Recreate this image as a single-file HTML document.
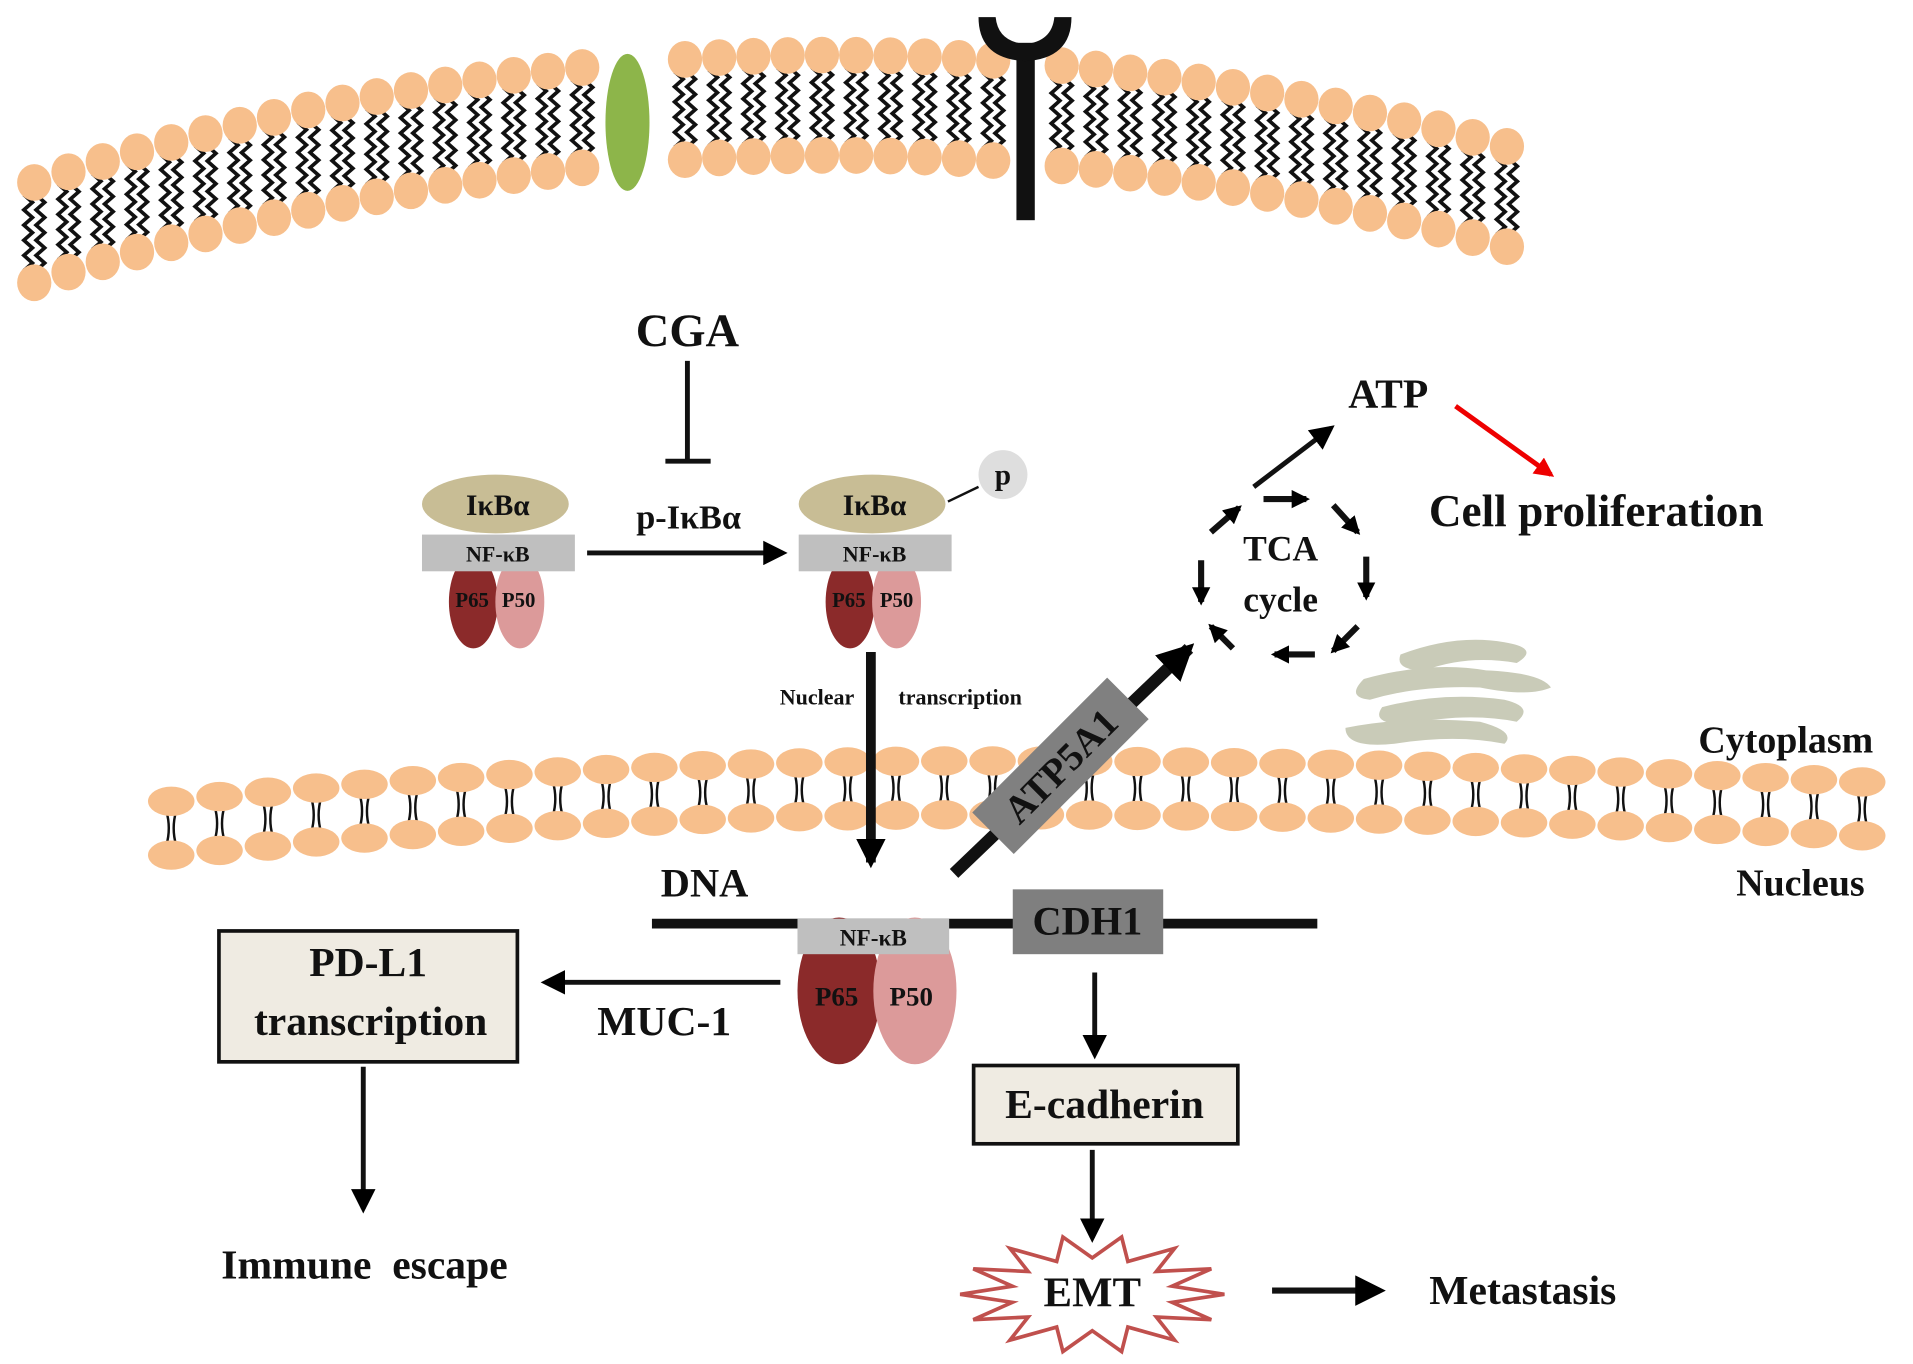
<!DOCTYPE html>
<html><head><meta charset="utf-8"><style>
html,body{margin:0;padding:0;background:#fff;}
svg{display:block;}
text{font-family:"Liberation Serif",serif;font-weight:bold;fill:#111;}
</style></head><body>
<svg id="s" width="1913" height="1364" viewBox="0 0 1564 1115" preserveAspectRatio="none" xmlns="http://www.w3.org/2000/svg">
<defs>
<marker id="ah" viewBox="0 0 10 10" refX="8" refY="5" markerWidth="5" markerHeight="5" orient="auto" markerUnits="strokeWidth"><path d="M0,0 L10,5 L0,10 z" fill="#000"/></marker>
<marker id="ahs" viewBox="0 0 10 10" refX="8" refY="5" markerWidth="3" markerHeight="3" orient="auto" markerUnits="strokeWidth"><path d="M0,0 L10,5 L0,10 z" fill="#000"/></marker>
<marker id="ahr" viewBox="0 0 10 10" refX="8" refY="5" markerWidth="4" markerHeight="4" orient="auto" markerUnits="strokeWidth"><path d="M0,0 L10,5 L0,10 z" fill="#e00"/></marker>
</defs>
<g id="mem1"></g>
<g id="mem2"></g>
<ellipse cx="513" cy="100" rx="18" ry="56" fill="#8db54a"/>
<rect x="831" y="35" width="15" height="145" fill="#111"/>
<path d="M800,14 Q800,48 838,50 Q876,48 876,14 L862,14 Q860,34 838,36 Q816,34 814,14 z" fill="#111"/>

<text x="562" y="283" font-size="38" text-anchor="middle">CGA</text>
<line x1="562" y1="295" x2="562" y2="377" stroke="#111" stroke-width="4"/>
<line x1="544" y1="377" x2="581" y2="377" stroke="#111" stroke-width="4"/>

<ellipse cx="387" cy="492" rx="20" ry="38" fill="#8b2a2a"/>
<ellipse cx="425" cy="492" rx="20" ry="38" fill="#dc9a9a"/>
<ellipse cx="405" cy="412" rx="60" ry="24" fill="#c8bd95"/>
<rect x="345" y="437" width="125" height="30" fill="#bfbfbf"/>
<text x="407" y="421" font-size="24" text-anchor="middle">IκBα</text>
<text x="407" y="459" font-size="18" text-anchor="middle" font-weight="normal">NF-κB</text>
<text x="386" y="496" font-size="17" text-anchor="middle">P65</text>
<text x="424" y="496" font-size="17" text-anchor="middle">P50</text>

<text x="563" y="432" font-size="28" text-anchor="middle">p-IκBα</text>
<line x1="480" y1="452" x2="640" y2="452" stroke="#111" stroke-width="4" marker-end="url(#ah)"/>

<ellipse cx="695" cy="492" rx="20" ry="38" fill="#8b2a2a"/>
<ellipse cx="733" cy="492" rx="20" ry="38" fill="#dc9a9a"/>
<ellipse cx="713" cy="412" rx="60" ry="24" fill="#c8bd95"/>
<rect x="653" y="437" width="125" height="30" fill="#bfbfbf"/>
<text x="715" y="421" font-size="24" text-anchor="middle">IκBα</text>
<text x="715" y="459" font-size="18" text-anchor="middle" font-weight="normal">NF-κB</text>
<text x="694" y="496" font-size="17" text-anchor="middle">P65</text>
<text x="733" y="496" font-size="17" text-anchor="middle">P50</text>
<line x1="775" y1="410" x2="800" y2="398" stroke="#111" stroke-width="2"/>
<circle cx="820" cy="388" r="20" fill="#dedede"/>
<text x="820" y="396" font-size="24" text-anchor="middle">p</text>

<line x1="712" y1="533" x2="712" y2="705" stroke="#111" stroke-width="8" marker-end="url(#ahs)"/>
<text x="668" y="576" font-size="18" text-anchor="middle">Nuclear</text>
<text x="785" y="576" font-size="18" text-anchor="middle">transcription</text>

<line x1="780" y1="714" x2="972" y2="530" stroke="#111" stroke-width="10" marker-end="url(#ahs)"/>
<g transform="translate(867,626) rotate(-45)">
<rect x="-78" y="-24" width="156" height="48" fill="#808080"/>
<text x="0" y="11" font-size="32" text-anchor="middle">ATP5A1</text>
</g>

<g stroke="#111" stroke-width="5" marker-end="url(#ahs)">
<line x1="1033" y1="408" x2="1068" y2="408"/>
<line x1="1090" y1="413" x2="1110" y2="435"/>
<line x1="1117" y1="455" x2="1117" y2="488"/>
<line x1="1110" y1="512" x2="1090" y2="532"/>
<line x1="1075" y1="535" x2="1042" y2="535"/>
<line x1="1008" y1="530" x2="990" y2="512"/>
<line x1="982" y1="458" x2="982" y2="492"/>
<line x1="990" y1="435" x2="1013" y2="415"/>
</g>
<text x="1047" y="458" font-size="29" text-anchor="middle" font-weight="normal">TCA</text>
<text x="1047" y="500" font-size="29" text-anchor="middle" font-weight="normal">cycle</text>
<line x1="1025" y1="398" x2="1088" y2="350" stroke="#111" stroke-width="4" marker-end="url(#ah)"/>
<text x="1135" y="333" font-size="34" text-anchor="middle">ATP</text>
<line x1="1190" y1="332" x2="1268" y2="388" stroke="#e00" stroke-width="4" marker-end="url(#ahr)"/>
<text x="1305" y="430" font-size="37" text-anchor="middle">Cell proliferation</text>

<g fill="#c9cbb8">
<path d="M1145,535 Q1190,518 1230,525 Q1260,530 1240,542 Q1200,535 1165,548 Q1140,548 1145,535z"/>
<path d="M1115,555 Q1170,540 1215,548 Q1260,550 1268,562 Q1250,570 1210,562 Q1160,560 1120,572 Q1100,570 1115,555z"/>
<path d="M1130,578 Q1180,565 1230,572 Q1255,578 1240,590 Q1200,582 1150,592 Q1120,592 1130,578z"/>
<path d="M1100,595 Q1150,585 1210,590 Q1240,598 1230,608 Q1190,600 1140,608 Q1100,612 1100,595z"/>
</g>

<text x="1460" y="615" font-size="31" text-anchor="middle">Cytoplasm</text>
<text x="1472" y="732" font-size="31" text-anchor="middle">Nucleus</text>

<text x="576" y="733" font-size="33" text-anchor="middle">DNA</text>
<line x1="533" y1="755" x2="1077" y2="755" stroke="#111" stroke-width="8"/>
<ellipse cx="686" cy="810" rx="34" ry="60" fill="#8b2a2a"/>
<ellipse cx="748" cy="810" rx="34" ry="60" fill="#dc9a9a"/>
<rect x="652" y="751" width="124" height="29" fill="#bfbfbf"/>
<text x="714" y="773" font-size="19" text-anchor="middle" font-weight="normal">NF-κB</text>
<text x="684" y="822" font-size="22" text-anchor="middle">P65</text>
<text x="745" y="822" font-size="22" text-anchor="middle">P50</text>
<rect x="828" y="727" width="123" height="53" fill="#7f7f7f"/>
<text x="889" y="764" font-size="33" text-anchor="middle">CDH1</text>

<line x1="638" y1="803" x2="446" y2="803" stroke="#111" stroke-width="4" marker-end="url(#ah)"/>
<text x="543" y="846" font-size="34" text-anchor="middle">MUC-1</text>
<rect x="179" y="761" width="244" height="107" fill="#efebe2" stroke="#111" stroke-width="3"/>
<text x="301" y="798" font-size="34" text-anchor="middle">PD-L1</text>
<text x="303" y="846" font-size="34" text-anchor="middle">transcription</text>
<line x1="297" y1="872" x2="297" y2="988" stroke="#111" stroke-width="4" marker-end="url(#ah)"/>
<text x="298" y="1045" font-size="34" text-anchor="middle" xml:space="preserve">Immune  escape</text>

<line x1="895" y1="795" x2="895" y2="862" stroke="#111" stroke-width="4" marker-end="url(#ah)"/>
<rect x="796" y="871" width="216" height="64" fill="#efebe2" stroke="#111" stroke-width="3"/>
<text x="903" y="914" font-size="34" text-anchor="middle">E-cadherin</text>
<line x1="893" y1="940" x2="893" y2="1012" stroke="#111" stroke-width="4" marker-end="url(#ah)"/>
<polygon id="emt" fill="#fff" stroke="#c0504d" stroke-width="3"/>
<text x="893" y="1068" font-size="35" text-anchor="middle">EMT</text>
<line x1="1040" y1="1055" x2="1128" y2="1055" stroke="#111" stroke-width="5" marker-end="url(#ah)"/>
<text x="1245" y="1066" font-size="34" text-anchor="middle">Metastasis</text>
</svg>
<script>
var NS="http://www.w3.org/2000/svg";
function el(p,t,a){var e=document.createElementNS(NS,t);for(var k in a)e.setAttribute(k,a[k]);p.appendChild(e);return e;}
var m1=document.getElementById("mem1");
function yt(x){return 45+0.000245*(x-680)*(x-680);}
var G=82;
for(var x=28;x<=1245;x+=28){
  if(Math.abs(x-513)<20||Math.abs(x-838)<16)continue;
  var t=yt(x),b=t+G;
  for(var d=-5;d<=5;d+=10){
    var pts="",n=10;
    for(var i=0;i<=n;i++){var yy=t+10+(b-t-20)*i/n;var xx=x+d+((i%2)?3.5:-3.5);pts+=xx.toFixed(1)+","+yy.toFixed(1)+" ";}
    el(m1,"polyline",{points:pts,fill:"none",stroke:"#111","stroke-width":3});
  }
}
for(var x=28;x<=1245;x+=28){
  if(Math.abs(x-513)<20||Math.abs(x-838)<16)continue;
  var t=yt(x);
  el(m1,"ellipse",{cx:x,cy:t,rx:14,ry:15,fill:"#f7bf8c"});
  el(m1,"ellipse",{cx:x,cy:t+G,rx:14,ry:15,fill:"#f7bf8c"});
}
var m2=document.getElementById("mem2");
function yn(x){var c=800;return (x<c)?622+0.0000758*(x-c)*(x-c):622+0.0000330*(x-c)*(x-c);}
for(var x=140;x<=1545;x+=39.5){
  var t=yn(x);
  el(m2,"path",{d:"M"+(x-4)+","+(t+8)+" q4,14 0,28 M"+(x+4)+","+(t+8)+" q-4,14 0,28",fill:"none",stroke:"#111","stroke-width":2});
  el(m2,"ellipse",{cx:x,cy:t,rx:19,ry:12,fill:"#f7bf8c"});
  el(m2,"ellipse",{cx:x,cy:t+44,rx:19,ry:12,fill:"#f7bf8c"});
}
var pts="",cx=893,cy=1058,N=14;
for(var i=0;i<N*2;i++){var a=Math.PI*i/N;var r=(i%2)?0.62:1;pts+=(cx+Math.cos(a)*108*r).toFixed(1)+","+(cy+Math.sin(a)*48*r).toFixed(1)+" ";}
document.getElementById("emt").setAttribute("points",pts);
</script>
</body></html>
